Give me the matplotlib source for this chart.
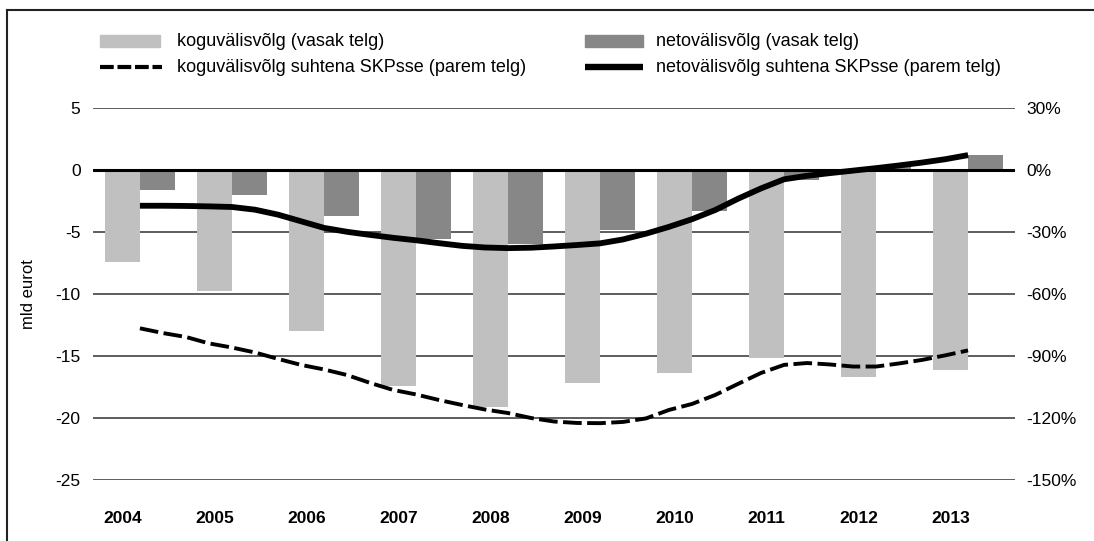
import matplotlib
matplotlib.use("Agg")
import matplotlib.pyplot as plt
from matplotlib.lines import Line2D
from matplotlib.patches import Rectangle
import numpy as np

plt.rcParams['font.family'] = ['Liberation Sans', 'DejaVu Sans']

# ---- data ----
years = ['2004', '2005', '2006', '2007', '2008', '2009', '2010', '2011', '2012', '2013']
gross_debt = [-7.45, -9.75, -12.95, -17.45, -19.1, -17.2, -16.4, -15.2, -16.7, -16.15]   # mld eurot
net_debt = [-1.65, -2.05, -3.7, -5.6, -6.0, -4.85, -3.3, -0.8, 0.3, 1.2]                  # mld eurot

# quarterly positions (in years from 2004)
quarters = [i / 4 for i in range(37)]
gross_pct = [-76.6, -78.9, -80.8, -83.9, -85.9, -88.3, -91.4, -94.3, -96.5,
             -99.2, -103.0, -106.4, -108.6, -111.3, -113.7, -115.9, -117.6,
             -120.0, -121.7, -122.4, -122.5, -121.9, -120.2, -116.1, -113.2,
             -108.9, -103.5, -98.2, -94.3, -93.4, -94.1, -95.1, -95.1,
             -93.6, -91.9, -89.7, -87.3]
net_pct = [-17.3, -17.3, -17.4, -17.6, -17.9, -19.2, -21.6, -24.8, -28.0,
           -29.9, -31.4, -32.8, -34.0, -35.4, -36.7, -37.5, -37.8,
           -37.6, -37.0, -36.3, -35.5, -33.6, -30.8, -27.5, -23.8,
           -19.4, -13.9, -8.9, -4.5, -2.8, -1.5, -0.3, 0.9,
           2.2, 3.6, 5.2, 7.2]

left_ticks = [5, 0, -5, -10, -15, -20, -25]
right_ticks = [30, 0, -30, -60, -90, -120, -150]

labels = ['koguvälisvõlg (vasak telg)', 'netovälisvõlg (vasak telg)',
          'koguvälisvõlg suhtena SKPsse (parem telg)', 'netovälisvõlg suhtena SKPsse (parem telg)']

LIGHT = '#c0c0c0'
DARK = '#878787'

W, H = 1094, 541
fig = plt.figure(figsize=(W / 100, H / 100), dpi=100)
ax = fig.add_axes([93 / W, (H - 480) / H, 922 / W, 372 / H])
ax.set_xlim(-0.51, 9.51)
ax.set_ylim(-25, 5)
for s in ax.spines.values():
    s.set_visible(False)

x = np.arange(len(years))
bw = 0.38
for t in left_ticks:
    if t != 0:
        ax.axhline(t, color='#505050', lw=1.3, zorder=0)
ax.bar(x - bw / 2, gross_debt, width=bw, color=LIGHT, zorder=1)
ax.bar(x + bw / 2, net_debt, width=bw, color=DARK, zorder=1)
ax.axhline(0, color='black', lw=2.2, zorder=2)

ax.set_yticks(left_ticks)
ax.set_yticklabels([str(t) for t in left_ticks])
ax.tick_params(axis='y', length=0, pad=9, labelsize=12.5)
ax.set_xticks(x - bw / 2)
ax.set_xticklabels(years, fontweight='bold')
ax.tick_params(axis='x', length=0, pad=22, labelsize=12.5)
ax.set_ylabel('mld eurot', fontsize=12, labelpad=14)

ax2 = ax.twinx()
ax2.set_ylim(-150, 30)
for s in ax2.spines.values():
    s.set_visible(False)
ax2.set_yticks(right_ticks)
ax2.set_yticklabels([f'{t}%' for t in right_ticks])
ax2.tick_params(axis='y', length=0, pad=8, labelsize=12.5)
ax2.plot(quarters, gross_pct, color='black', lw=2.8, linestyle=(0, (4.8, 1.4)), zorder=3)
ax2.plot(quarters, net_pct, color='black', lw=4.2, solid_capstyle='butt', zorder=3)

# ---- legend (manual) ----
def fx(px):
    return px / W
def fy(py):
    return 1 - py / H

fig.add_artist(Rectangle((fx(100), fy(47)), fx(160) - fx(100), 12 / H, color=LIGHT, transform=fig.transFigure))
fig.add_artist(Rectangle((fx(585), fy(47)), fx(643) - fx(585), 12 / H, color=DARK, transform=fig.transFigure))
fig.add_artist(Line2D([fx(100), fx(162)], [fy(67), fy(67)], color='black', lw=3.0,
                      linestyle=(0, (3.3, 0.9)), transform=fig.transFigure))
fig.add_artist(Line2D([fx(585), fx(643)], [fy(67), fy(67)], color='black', lw=4.6,
                      solid_capstyle='butt', transform=fig.transFigure))
fs = 13
fig.text(fx(177), fy(41), labels[0], fontsize=fs, va='center', ha='left')
fig.text(fx(656), fy(41), labels[1], fontsize=fs, va='center', ha='left')
fig.text(fx(177), fy(67), labels[2], fontsize=fs, va='center', ha='left')
fig.text(fx(656), fy(67), labels[3], fontsize=fs, va='center', ha='left')

# ---- frame ----
fig.add_artist(Line2D([fx(7), 1], [fy(10), fy(10)], color='#222222', lw=1.5, transform=fig.transFigure))
fig.add_artist(Line2D([fx(7), fx(7)], [fy(10), 0], color='#222222', lw=1.5, transform=fig.transFigure))

fig.savefig('out.png', dpi=100)
